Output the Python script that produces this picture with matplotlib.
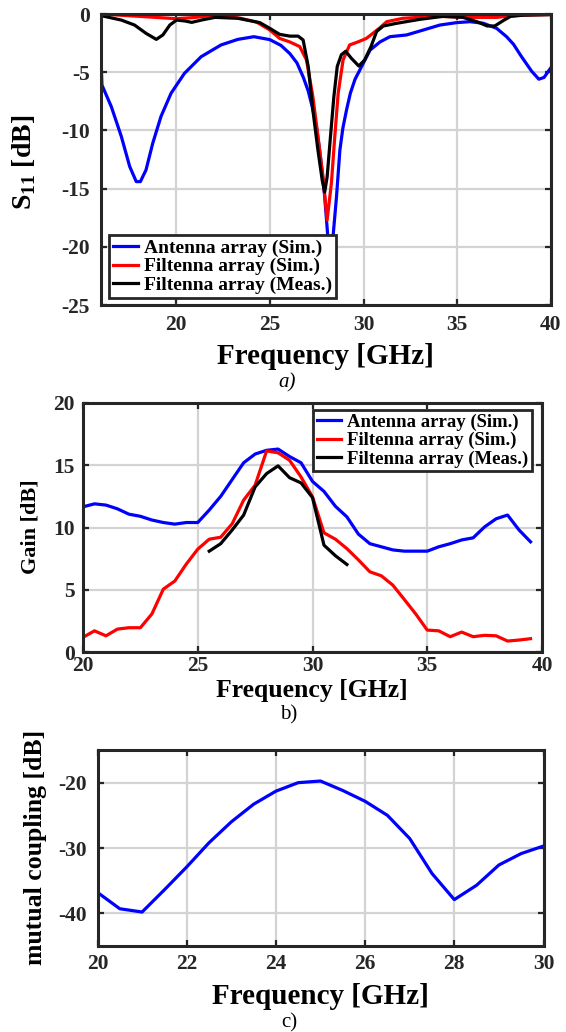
import matplotlib
matplotlib.use("Agg")
import matplotlib.pyplot as plt

plt.rcParams['font.family'] = ['Liberation Serif', 'DejaVu Serif']
plt.rcParams['font.weight'] = 'bold'
plt.rcParams['axes.unicode_minus'] = False
plt.rcParams['mathtext.fontset'] = 'custom'
plt.rcParams['mathtext.rm'] = 'Liberation Serif'
plt.rcParams['mathtext.bf'] = 'Liberation Serif:bold'

# ---------------- Panel a: S11 ----------------
fa_ant = [16.0, 16.05, 16.55, 17.08, 17.53, 17.88, 18.1, 18.4, 18.76, 19.2, 19.74, 20.45, 21.34,
          22.4, 23.3, 24.15, 25.0, 25.6, 26.07, 26.45, 26.78, 27.05, 27.3, 27.5, 27.66, 27.8,
          27.93, 28.11, 28.24, 28.36, 28.56, 28.74, 28.9, 29.1, 29.3, 29.55, 30.0, 30.35, 30.88,
          31.41, 32.3, 33.2, 34.07, 34.97, 35.68, 36.4, 37.1, 37.63, 38.0, 38.4, 38.96, 39.35,
          39.63, 40.0]
s_ant = [-3.8, -6.1, -7.96, -10.5, -13.1, -14.4, -14.4, -13.4, -11.1, -8.8, -6.8, -5.1, -3.67,
         -2.66, -2.18, -1.95, -2.2, -2.7, -3.4, -4.2, -5.4, -6.6, -8.2, -9.8, -11.7, -13.6,
         -15.7, -19.4, -20.8, -19.4, -15.7, -11.7, -9.8, -8.2, -6.8, -5.6, -4.2, -3.1, -2.4,
         -1.95, -1.8, -1.37, -0.95, -0.74, -0.66, -0.8, -1.23, -1.95, -2.6, -3.6, -4.9, -5.6,
         -5.45, -4.6]

fa_fil = [16.0, 17.0, 18.0, 19.0, 20.0, 21.0, 22.0, 23.4, 24.3, 25.0, 25.53, 26.07, 26.6, 26.96,
          27.3, 27.57, 27.84, 28.06, 28.29, 28.47, 28.65, 28.91, 29.26, 29.7, 30.15, 30.5, 30.86,
          31.24, 32.1, 33.9, 35.7, 37.1, 37.6, 38.5, 40.0]
s_fil = [0.0, -0.1, -0.2, -0.3, -0.4, -0.3, -0.1, -0.35, -0.7, -1.37, -2.1, -2.4, -2.8, -3.95,
         -7.1, -10.5, -14.0, -17.7, -14.5, -10.5, -6.8, -3.95, -2.66, -2.4, -2.1, -1.66, -1.2,
         -0.66, -0.37, -0.2, -0.29, -0.29, -0.2, -0.1, -0.05]

fa_meas = [16.0, 16.09, 17.08, 17.79, 18.4, 18.95, 19.3, 19.67, 20.03, 20.48, 20.84, 21.36, 22.08,
           23.3, 24.47, 25.0, 25.53, 26.07, 26.51, 26.78, 27.05, 27.3, 27.57, 27.8, 27.93, 28.06,
           28.24, 28.42, 28.6, 28.82, 29.05, 29.35, 29.75, 30.06, 30.4, 30.7, 31.06, 31.77, 33.0,
           34.25, 35.3, 36.05, 36.6, 37.0, 37.5, 37.85, 38.5, 40.0]
s_meas = [0.0, -0.17, -0.52, -0.95, -1.66, -2.18, -1.8, -0.95, -0.52, -0.6, -0.72, -0.52, -0.29,
          -0.37, -0.74, -1.23, -1.75, -1.9, -1.9, -2.23, -4.5, -8.25, -11.7, -14.3, -15.3, -14.0,
          -10.5, -7.1, -4.5, -3.5, -3.2, -3.8, -4.47, -3.95, -2.8, -1.5, -1.03, -0.8, -0.46,
          -0.2, -0.29, -0.66, -1.03, -1.03, -0.52, -0.2, -0.1, -0.05]

# ---------------- Panel b: Gain ----------------
fb = [20.0, 20.5, 21.0, 21.5, 22.0, 22.5, 23.0, 23.5, 24.0, 24.5, 25.0, 25.5, 26.0, 26.5, 27.0,
      27.5, 28.0, 28.5, 29.0, 29.5, 30.0, 30.5, 31.0, 31.5, 32.0, 32.5, 33.0, 33.5, 34.0, 34.5,
      35.0, 35.5, 36.0, 36.5, 37.0, 37.5, 38.0, 38.5, 39.0, 39.5]
g_ant = [11.66, 11.9, 11.8, 11.5, 11.07, 10.9, 10.6, 10.4, 10.27, 10.4, 10.4, 11.4, 12.5, 13.85, 15.2,
         15.9, 16.2, 16.3, 15.7, 15.2, 13.7, 12.9, 11.7, 10.85, 9.47, 8.7, 8.45, 8.2, 8.1, 8.1,
         8.1, 8.45, 8.7, 9.0, 9.17, 10.05, 10.7, 11.0, 9.8, 8.85]
g_fil = [1.18, 1.7, 1.3, 1.84, 1.95, 1.95, 3.05, 5.05, 5.7, 7.06, 8.26, 9.06, 9.22, 10.3, 12.2,
         13.4, 16.15, 16.0, 15.4, 14.06, 12.46, 9.57, 9.06, 8.3, 7.4, 6.44, 6.12, 5.37, 4.22, 3.05,
         1.76, 1.7, 1.23, 1.6, 1.23, 1.34, 1.3, 0.88, 0.96, 1.07]
fb_meas = [25.5, 26.0, 26.5, 27.0, 27.5, 28.0, 28.5, 29.0, 29.5, 30.0, 30.5, 31.0, 31.5]
g_meas = [8.1, 8.7, 9.8, 11.0, 13.26, 14.33, 14.95, 14.0, 13.58, 12.4, 8.58, 7.73, 7.03]

# ---------------- Panel c: mutual coupling ----------------
fc = [20.0, 20.5, 21.0, 21.5, 22.0, 22.5, 23.0, 23.5, 24.0, 24.5, 25.0, 25.5, 26.0, 26.5, 27.0,
      27.5, 28.0, 28.5, 29.0, 29.5, 30.0]
mc = [-36.8, -39.3, -39.8, -36.4, -32.9, -29.2, -26.0, -23.3, -21.3, -20.0, -19.75, -21.2, -22.85,
      -25.0, -28.55, -33.9, -37.9, -35.7, -32.6, -30.85, -29.7]

labels = ['Antenna array (Sim.)', 'Filtenna array (Sim.)', 'Filtenna array (Meas.)']
BLUE, RED, BLACK = '#0000ff', '#ff0000', '#000000'
LW = 2.3
W, H = 566, 1032

fig = plt.figure(figsize=(W / 100, H / 100), dpi=100)


def box(l, t, r, b):
    return [l / W, 1 - b / H, (r - l) / W, (b - t) / H]


def style(ax, tick_fs=15.5, xpad=6, ypad=7):
    ax.grid(True, color='#d3d3d3', lw=1.6)
    ax.set_axisbelow(True)
    for s in ax.spines.values():
        s.set_linewidth(2.2)
        s.set_color('#262626')
    ax.tick_params(direction='in', top=True, right=True, length=4, width=1.6,
                   labelsize=tick_fs, colors='#262626', labelcolor='#262626')
    ax.tick_params(axis='x', pad=xpad)
    ax.tick_params(axis='y', pad=ypad)
    for lab in ax.get_xticklabels() + ax.get_yticklabels():
        lab.set_fontweight('bold')


def ftext(x, y, s, **kw):
    fig.text(x / W, 1 - y / H, s, ha='center', va='center', **kw)


def legend(ax, anchor, loc, size):
    lg = ax.legend(loc=loc, bbox_to_anchor=anchor, frameon=True, fancybox=False,
                   handlelength=1.3, handletextpad=0.3, borderpad=0.2, labelspacing=0.05,
                   borderaxespad=0.0, prop={'weight': 'bold', 'size': size})
    lg.get_frame().set_edgecolor('#262626')
    lg.get_frame().set_linewidth(2.0)
    lg.get_frame().set_alpha(1)
    lg.set_zorder(10)
    return lg


# Panel a
axa = fig.add_axes(box(101, 14, 551, 305))
axa.plot(fa_ant, s_ant, color=BLUE, lw=LW, label=labels[0], solid_joinstyle='round')
axa.plot(fa_fil, s_fil, color=RED, lw=LW, label=labels[1], solid_joinstyle='round')
axa.plot(fa_meas, s_meas, color=BLACK, lw=LW, label=labels[2], solid_joinstyle='round')
axa.set_xlim(16, 40)
axa.set_ylim(-25, 0)
axa.set_xticks([20, 25, 30, 35, 40])
axa.set_yticks([-25, -20, -15, -10, -5, 0])
style(axa, xpad=7, ypad=8)
la = legend(axa, ((109 - 101) / 450, 1 - (298 - 14) / 291), 'lower left', 14)
ftext(325, 357, 'Frequency [GHz]', fontsize=21, fontweight='bold')
ftext(24, 162, r'S$_{\mathbf{11}}$ [dB]', fontsize=20, fontweight='bold', rotation=90)
ftext(287, 383, 'a)', fontsize=15, style='italic', fontweight='normal')

# Panel b
axb = fig.add_axes(box(83, 403, 542, 652))
axb.plot(fb, g_ant, color=BLUE, lw=LW, label=labels[0], solid_joinstyle='round')
axb.plot(fb, g_fil, color=RED, lw=LW, label=labels[1], solid_joinstyle='round')
axb.plot(fb_meas, g_meas, color=BLACK, lw=LW, label=labels[2], solid_joinstyle='round')
axb.set_xlim(20, 40)
axb.set_ylim(0, 20)
axb.set_xticks([20, 25, 30, 35, 40])
axb.set_yticks([0, 5, 10, 15, 20])
style(axb, xpad=3, ypad=6)
lb = legend(axb, ((532 - 83) / 459, 1 - (410 - 403) / 249), 'upper right', 13.5)
ftext(312, 691, 'Frequency [GHz]', fontsize=18.5, fontweight='bold')
ftext(31, 527, 'Gain [dB]', fontsize=16, fontweight='bold', rotation=90)
ftext(289, 715, 'b)', fontsize=15, fontweight='normal')

# Panel c
axc = fig.add_axes(box(97.5, 750, 543.5, 946))
axc.plot(fc, mc, color=BLUE, lw=LW, solid_joinstyle='round')
axc.set_xlim(20, 30)
axc.set_ylim(-45, -15)
axc.set_xticks([20, 22, 24, 26, 28, 30])
axc.set_yticks([-40, -30, -20])
style(axc, xpad=6, ypad=8)
ftext(320, 997, 'Frequency [GHz]', fontsize=21, fontweight='bold')
ftext(36, 847, 'mutual coupling [dB]', fontsize=18.5, fontweight='bold', rotation=90)
ftext(289, 1023, 'c)', fontsize=15, fontweight='normal')

fig.savefig('out.png', dpi=100)
